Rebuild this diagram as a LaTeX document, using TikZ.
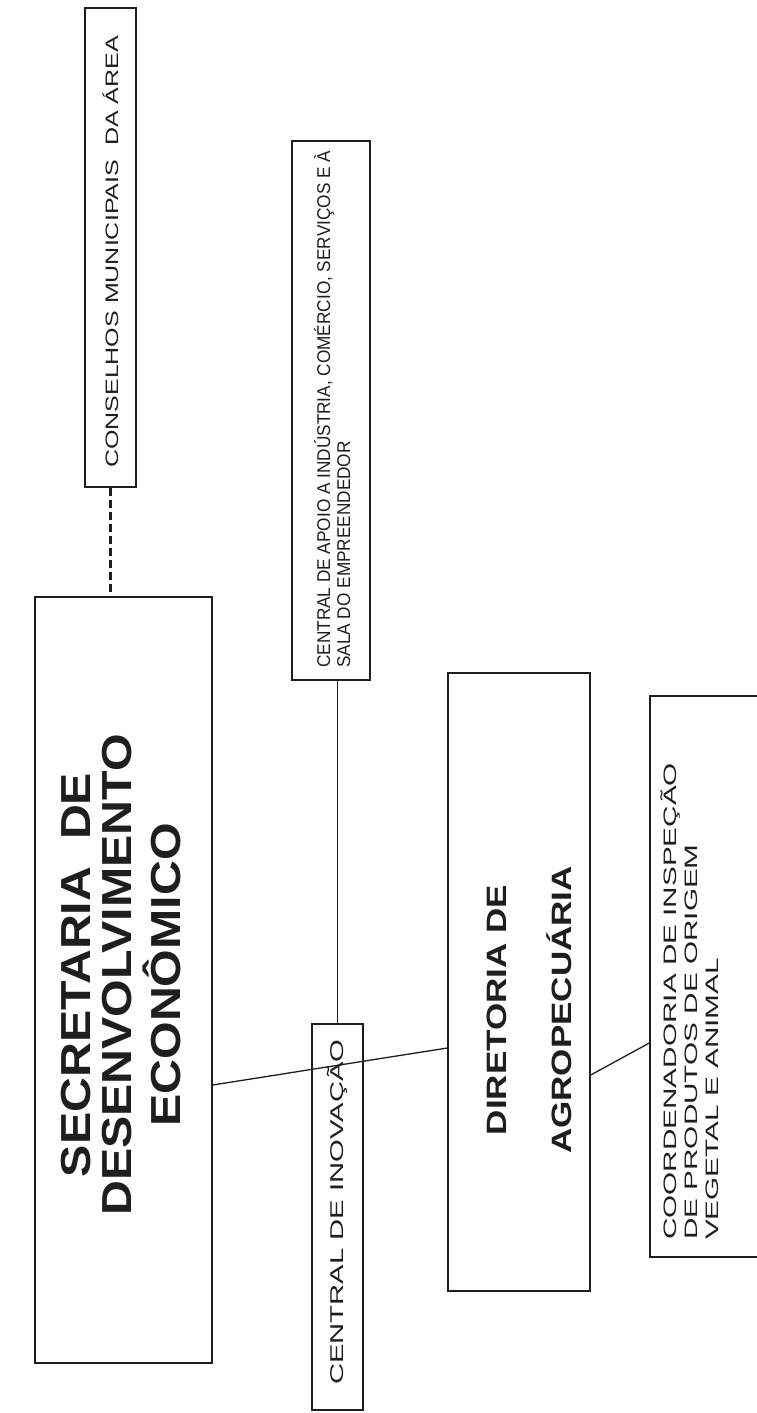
\documentclass[tikz,border=0pt]{standalone}
\usepackage{fontspec}
\setmainfont{Liberation Sans}
\usepackage{graphicx}
\definecolor{ink}{HTML}{1E1E1E}
\begin{document}
\begin{tikzpicture}[x=1pt,y=-1pt,
  box/.style={draw=ink,line width=1.4pt,rectangle,inner sep=0pt},
  lbl/.style={rotate=90,inner sep=0pt,text=ink},
  link/.style={draw=ink,line width=1.3pt},
  dashlink/.style={draw=ink,line width=3pt,dash pattern=on 8pt off 4pt}]
\useasboundingbox[fill=white] (0,0) rectangle (757,1413);

% boxes
\node[box,minimum width=177pt,minimum height=766pt] (sec) at (123.5,980) {};
\node[box,minimum width=51pt,minimum height=479pt] (cons) at (110.5,247.5) {};
\node[box,minimum width=78pt,minimum height=539pt] (apoio) at (331,410.5) {};
\node[box,minimum width=51pt,minimum height=386pt] (inov) at (337.5,1217) {};
\node[box,minimum width=142pt,minimum height=618pt] (dir) at (519,982) {};
\node[box,minimum width=150pt,minimum height=561pt] (coord) at (725,976.5) {};

% texts
\node[lbl] (tsec) at (127,975) {\fontsize{42}{39}\selectfont\bfseries
  \scalebox{1.15}[1]{\begin{tabular}{@{}c@{}}SECRETARIA\ \ DE\\DESENVOLVIMENTO\\ECONÔMICO\end{tabular}}};
\node[lbl] (tcons) at (110.5,252) {\fontsize{18}{21}\selectfont
  \scalebox{1.39}[1]{CONSELHOS MUNICIPAIS\ \ DA ÁREA}};
\node[lbl,anchor=west] (tapoio) at (335,668) {\fontsize{18.5}{20}\selectfont
  \scalebox{0.93}[1]{\begin{tabular}{@{}l@{}}CENTRAL DE APOIO A INDÚSTRIA, COMÉRCIO, SERVIÇOS E À\\SALA DO EMPREENDEDOR\end{tabular}}};
\node[lbl] (tinov) at (337.5,1212) {\fontsize{18.5}{21}\selectfont
  \scalebox{1.58}[1]{CENTRAL DE INOVAÇÃO}};
\node[lbl] (tdir) at (526,1010) {\fontsize{28}{65}\selectfont\bfseries
  \scalebox{1.25}[1]{\begin{tabular}{@{}c@{}}DIRETORIA DE\\AGROPECUÁRIA\end{tabular}}};
\node[lbl,anchor=west] (tcoord) at (693,1240) {\fontsize{18}{21}\selectfont
  \scalebox{1.65}[1]{\begin{tabular}{@{}l@{}}COORDENADORIA DE INSPEÇÃO\\DE PRODUTOS DE ORIGEM\\VEGETAL E ANIMAL\end{tabular}}};

% connectors
\draw[dashlink] (cons.south) -- (cons.south |- sec.north);
\draw[link] ([yshift=-105pt]sec.east) -- ([yshift=-66pt]dir.west);
\draw[link] (inov.north |- apoio.south) -- (inov.north);
\draw[link] ([yshift=-93pt]dir.east) -- ([yshift=-66.5pt]coord.west);
\end{tikzpicture}
\end{document}
